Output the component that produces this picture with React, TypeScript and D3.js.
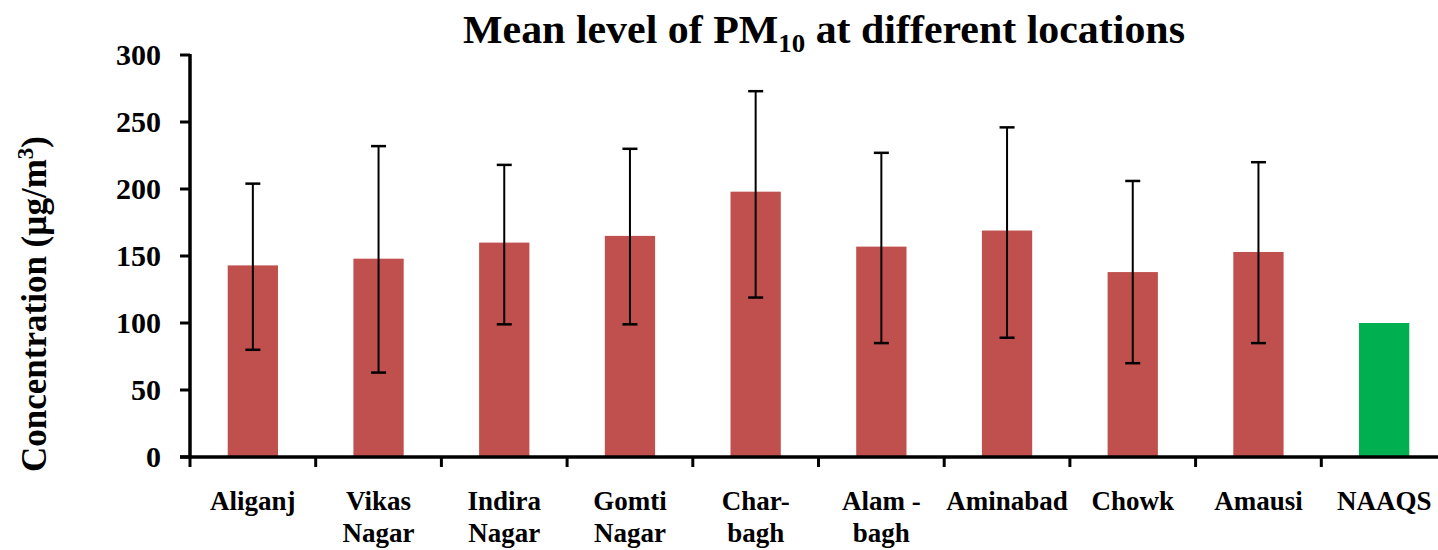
import React from "react";
import * as d3 from "d3";

const categories: string[][] = [
  ["Aliganj"],
  ["Vikas", "Nagar"],
  ["Indira", "Nagar"],
  ["Gomti", "Nagar"],
  ["Char-", "bagh"],
  ["Alam -", "bagh"],
  ["Aminabad"],
  ["Chowk"],
  ["Amausi"],
  ["NAAQS"],
];
const means: number[] = [143, 148, 160, 165, 198, 157, 169, 138, 153, 100];
const errHigh: (number | null)[] = [204, 232, 218, 230, 273, 227, 246, 206, 220, null];
const errLow: (number | null)[] = [80, 63, 99, 99, 119, 85, 89, 70, 85, null];
const barColors: string[] = ["#C0504D", "#C0504D", "#C0504D", "#C0504D", "#C0504D", "#C0504D", "#C0504D", "#C0504D", "#C0504D", "#00B050"];
const yTicks: number[] = [0, 50, 100, 150, 200, 250, 300];

const W = 1438;
const H = 550;
const left = 190;
const right = 1447;
const top = 55;
const bottom = 457;
const FONT = "'Liberation Serif', 'Times New Roman', serif";

export default function App() {
  const idx = categories.map((_, i) => String(i));
  const x = d3.scaleBand<string>().domain(idx).range([left, right]).paddingInner(0).paddingOuter(0);
  const y = d3.scaleLinear().domain([0, 300]).range([bottom, top]);
  const bw = x.bandwidth() * 0.4;
  const capW = 15;
  const boundaries = d3.range(categories.length + 1).map((k) => left + k * x.step());

  return (
    <svg width={W} height={H} style={{ position: "absolute", left: 0, top: 0, background: "#fff" }} fontFamily={FONT}>
      <rect x={0} y={0} width={W} height={H} fill="#fff" />
      {/* title */}
      <text x={824} y={43} textAnchor="middle" fontSize={39} fontWeight="bold" fill="#000" textLength={722} lengthAdjust="spacingAndGlyphs">
        Mean level of PM<tspan fontSize={25} dy={9}>10</tspan>
        <tspan dy={-9}> at different locations</tspan>
      </text>
      {/* bars */}
      {means.map((v, i) => {
        const cx = (x(String(i)) as number) + x.bandwidth() / 2;
        return <rect key={"b" + i} x={cx - bw / 2} y={y(v)} width={bw} height={y(0) - y(v)} fill={barColors[i]} />;
      })}
      {/* error bars */}
      {means.map((v, i) => {
        const hi = errHigh[i];
        const lo = errLow[i];
        if (hi == null || lo == null) return null;
        const cx = (x(String(i)) as number) + x.bandwidth() / 2;
        return (
          <g key={"e" + i} stroke="#000" strokeWidth={2}>
            <line x1={cx} x2={cx} y1={y(hi)} y2={y(lo)} />
            <line x1={cx - capW / 2} x2={cx + capW / 2} y1={y(hi)} y2={y(hi)} strokeWidth={2.5} />
            <line x1={cx - capW / 2} x2={cx + capW / 2} y1={y(lo)} y2={y(lo)} strokeWidth={2.5} />
          </g>
        );
      })}
      {/* y axis */}
      <line x1={left} x2={left} y1={y(300) - 1} y2={y(0) + 1.5} stroke="#000" strokeWidth={3.5} />
      {yTicks.map((t) => (
        <g key={"yt" + t}>
          <line x1={left - 10} x2={left} y1={y(t)} y2={y(t)} stroke="#000" strokeWidth={3} />
          <text x={161} y={y(t)} dy="0.34em" textAnchor="end" fontSize={30} fontWeight="bold" fill="#000">
            {t}
          </text>
        </g>
      ))}
      {/* x axis */}
      <line x1={left - 10} x2={right + 5} y1={y(0)} y2={y(0)} stroke="#000" strokeWidth={3.5} />
      {boundaries.map((bx, k) => (
        <line key={"xt" + k} x1={bx} x2={bx} y1={y(0)} y2={y(0) + 10} stroke="#000" strokeWidth={3} />
      ))}
      {categories.map((lines, i) => {
        const cx = (x(String(i)) as number) + x.bandwidth() / 2;
        return (
          <text key={"xl" + i} x={cx} y={510} textAnchor="middle" fontSize={27} fontWeight="bold" fill="#000">
            {lines.map((ln, j) => (
              <tspan key={j} x={cx} dy={j === 0 ? 0 : 32}>
                {ln}
              </tspan>
            ))}
          </text>
        );
      })}
      {/* y axis title */}
      <text transform={`translate(46,304) rotate(-90)`} textAnchor="middle" fontSize={35} fontWeight="bold" fill="#000">
        Concentration (µg/m<tspan fontSize={23} dy={-13}>3</tspan>
        <tspan dy={13}>)</tspan>
      </text>
    </svg>
  );
}
